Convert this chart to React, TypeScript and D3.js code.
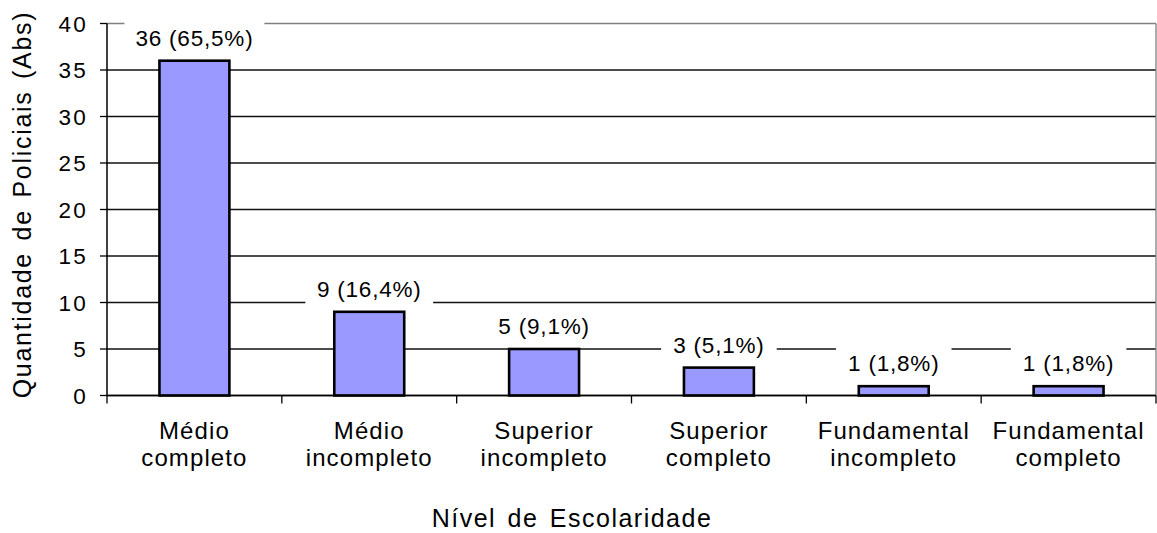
import React from 'react';
import * as d3 from 'd3';

// data
const categories = [
  ['Médio', 'completo'],
  ['Médio', 'incompleto'],
  ['Superior', 'incompleto'],
  ['Superior', 'completo'],
  ['Fundamental', 'incompleto'],
  ['Fundamental', 'completo'],
];
const values = [36, 9, 5, 3, 1, 1];
const percents = ['65,5', '16,4', '9,1', '5,1', '1,8', '1,8'];
const yTicks = [0, 5, 10, 15, 20, 25, 30, 35, 40];

const W = 1157;
const H = 533;
const margin = { top: 23.5, right: 1, bottom: 137.5, left: 107 };
const font = '"Liberation Sans", Arial, sans-serif';

const App = () => {
  const innerW = W - margin.left - margin.right;
  const innerH = H - margin.top - margin.bottom;

  const x = d3
    .scaleBand()
    .domain(categories.map((d, i) => String(i)))
    .range([0, innerW])
    .padding(0);
  const y = d3.scaleLinear().domain([0, 40]).range([innerH, 0]);

  const barW = x.bandwidth() * 0.4;
  const boundaries = d3.range(categories.length + 1).map((i) => i * x.step());

  return (
    <svg
      width={W}
      height={H}
      style={{ position: 'absolute', left: 0, top: 0, background: '#fff' }}
      fontFamily={font}
    >
      <g transform={`translate(${margin.left},${margin.top})`}>
        {/* grid lines */}
        {yTicks.map((t) => (
          <line
            key={'g' + t}
            x1={0}
            x2={innerW}
            y1={y(t)}
            y2={y(t)}
            stroke={t === 40 ? '#808080' : '#111'}
            strokeWidth={1.3}
          />
        ))}
        {/* plot border right */}
        <line x1={innerW} x2={innerW} y1={0} y2={innerH} stroke="#808080" strokeWidth={1.3} />

        {/* bars */}
        {values.map((v, i) => (
          <rect
            key={'b' + i}
            x={x(String(i))! + (x.bandwidth() - barW) / 2}
            y={y(v)}
            width={barW}
            height={innerH - y(v)}
            fill="#9999ff"
            stroke="#000"
            strokeWidth={2.6}
          />
        ))}

        {/* data labels with white boxes */}
        {values.map((v, i) => {
          const cx = x(String(i))! + x.bandwidth() / 2;
          const cy = y(v) - 23;
          const label = `${v} (${percents[i]}%)`;
          const tw = label.length * 12.2;
          return (
            <g key={'l' + i}>
              <rect x={cx - tw / 2 - 9} y={cy - 16} width={tw + 18} height={32} fill="#fff" />
              <text
                x={cx}
                y={cy}
                dy="0.36em"
                textAnchor="middle"
                fontSize={22.5}
                letterSpacing={0.8}
                fill="#000"
              >
                {label}
              </text>
            </g>
          );
        })}

        {/* y axis */}
        <line x1={0} x2={0} y1={0} y2={innerH} stroke="#000" strokeWidth={1.5} />
        {yTicks.map((t) => (
          <g key={'y' + t} transform={`translate(0,${y(t)})`}>
            <line x1={-7} x2={0} stroke="#000" strokeWidth={1.3} />
            <text
              x={-19}
              dy="0.36em"
              textAnchor="end"
              fontSize={22.5}
              letterSpacing={2.2}
              fill="#000"
            >
              {t}
            </text>
          </g>
        ))}

        {/* x axis */}
        <line x1={0} x2={innerW} y1={innerH} y2={innerH} stroke="#000" strokeWidth={1.5} />
        {boundaries.map((b, i) => (
          <line key={'t' + i} x1={b} x2={b} y1={innerH} y2={innerH + 8} stroke="#000" strokeWidth={1.3} />
        ))}
        {categories.map((c, i) => {
          const cx = x(String(i))! + x.bandwidth() / 2;
          return (
            <text
              key={'c' + i}
              x={cx}
              textAnchor="middle"
              fontSize={24}
              letterSpacing={1.1}
              fill="#000"
            >
              <tspan x={cx} y={innerH + 43}>
                {c[0]}
              </tspan>
              <tspan x={cx} y={innerH + 70.5}>
                {c[1]}
              </tspan>
            </text>
          );
        })}
      </g>

      {/* axis titles */}
      <text
        x={572}
        y={527}
        textAnchor="middle"
        fontSize={25}
        letterSpacing={1.5}
        wordSpacing={3}
        fill="#000"
      >
        Nível de Escolaridade
      </text>
      <text
        transform={`translate(31,${margin.top + innerH / 2 - 5}) rotate(-90)`}
        textAnchor="middle"
        fontSize={25}
        letterSpacing={1.7}
        wordSpacing={3}
        fill="#000"
      >
        Quantidade de Policiais (Abs)
      </text>
    </svg>
  );
};

export default App;
